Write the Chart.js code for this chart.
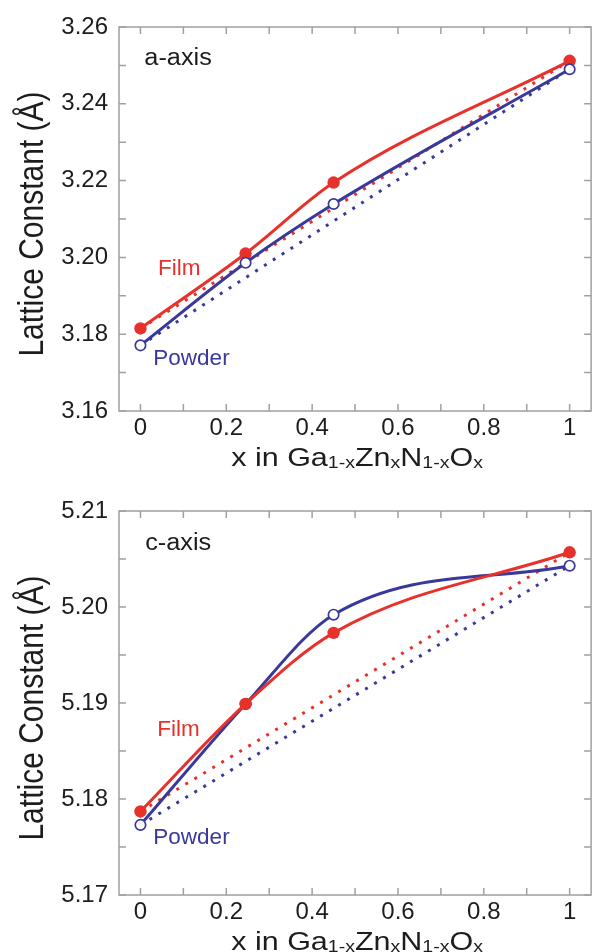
<!DOCTYPE html>
<html>
<head>
<meta charset="utf-8">
<script src="https://cdn.jsdelivr.net/npm/chart.js@4.4.1/dist/chart.umd.min.js"></script>
<style>
  html, body { margin: 0; padding: 0; background: #fff; }
  .panel { position: absolute; left: 0; width: 598px; height: 476px; }
</style>
</head>
<body>
<div class="panel" style="top:0"><canvas id="aAxis" width="598" height="476"></canvas></div>
<div class="panel" style="top:476px"><canvas id="cAxis" width="598" height="476"></canvas></div>
<script>
"use strict";

// composition x in Ga(1-x)Zn(x)N(1-x)O(x)
const xValues = [0, 0.245, 0.45, 1];

// a-axis lattice constant (Å)
const aFilm   = [3.1815, 3.2010, 3.2195, 3.2512];
const aPowder = [3.1771, 3.1986, 3.2139, 3.2490];

// c-axis lattice constant (Å)
const cFilm   = [5.1787, 5.1899, 5.1973, 5.2057];
const cPowder = [5.1773, 5.1899, 5.1992, 5.2043];

// ticks
const xMajor = [0, 0.2, 0.4, 0.6, 0.8, 1];
const xMinor = [0.1, 0.3, 0.5, 0.7, 0.9];
const aMajor = [3.16, 3.18, 3.20, 3.22, 3.24, 3.26];
const aMinor = [3.17, 3.19, 3.21, 3.23, 3.25];
const cMajor = [5.17, 5.18, 5.19, 5.20, 5.21];
const cMinor = [5.175, 5.185, 5.195, 5.205];

const RED = "#e6322b";
const BLUE = "#39399a";
const GRAY = "#a0a0a0";
const INK = "#1d1d1d";
const FONT = "'Liberation Sans', Arial, Helvetica, sans-serif";

Chart.defaults.font.family = FONT;
Chart.defaults.color = INK;

const panels = [
    {
        id: "aAxis", film: aFilm, powder: aPowder,
        yMin: 3.16, yMax: 3.26, major: aMajor, minor: aMinor,
        padTop: 27, xHeight: 65, filmOnTop: false,
        tag: "a-axis", tagAt: [0.009, 3.2501],
        filmAt: [0.041, 3.1954], powderAt: [0.03, 3.1720]
    },
    {
        id: "cAxis", film: cFilm, powder: cPowder,
        yMin: 5.17, yMax: 5.21, major: cMajor, minor: cMinor,
        padTop: 35, xHeight: 57, filmOnTop: true,
        tag: "c-axis", tagAt: [0.011, 5.2059],
        filmAt: [0.039, 5.1866], powderAt: [0.03, 5.1753]
    }
];

function points(ys) {
    return xValues.map(function (x, i) { return { x: x, y: ys[i] }; });
}

// straight line between the end members (x = 0 and x = 1)
function endLine(ys) {
    return [
        { x: xValues[0], y: ys[0] },
        { x: xValues[xValues.length - 1], y: ys[ys.length - 1] }
    ];
}

function framePlugin(p) {
    return {
        id: "frame",
        beforeDatasetsDraw: function (chart) {
            const ctx = chart.ctx, a = chart.chartArea;
            const xs = chart.scales.x, ys = chart.scales.y;
            const len = 7;
            ctx.save();
            ctx.strokeStyle = GRAY;
            ctx.lineWidth = 1.5;
            ctx.beginPath();
            xMajor.concat(xMinor).forEach(function (v) {
                const px = xs.getPixelForValue(v);
                ctx.moveTo(px, a.bottom); ctx.lineTo(px, a.bottom - len);
                ctx.moveTo(px, a.top); ctx.lineTo(px, a.top + len);
            });
            p.major.concat(p.minor).forEach(function (v) {
                const py = ys.getPixelForValue(v);
                ctx.moveTo(a.left, py); ctx.lineTo(a.left + len, py);
                ctx.moveTo(a.right, py); ctx.lineTo(a.right - len, py);
            });
            ctx.stroke();
            ctx.strokeRect(a.left, a.top, a.right - a.left, a.bottom - a.top);
            ctx.restore();
        }
    };
}

function textPlugin(p) {
    return {
        id: "texts",
        afterDraw: function (chart) {
            const ctx = chart.ctx, a = chart.chartArea;
            const xs = chart.scales.x, ys = chart.scales.y;

            function label(text, at, color, size, stretch) {
                ctx.save();
                ctx.translate(xs.getPixelForValue(at[0]), ys.getPixelForValue(at[1]));
                ctx.scale(stretch, 1);
                ctx.font = size + "px " + FONT;
                ctx.fillStyle = color;
                ctx.textAlign = "left";
                ctx.textBaseline = "alphabetic";
                ctx.fillText(text, 0, 0);
                ctx.restore();
            }

            label(p.tag, p.tagAt, INK, 23, 1.1);
            label("Film", p.filmAt, RED, 22.5, 1);
            label("Powder", p.powderAt, BLUE, 22.5, 1);

            // y title
            ctx.save();
            ctx.translate(42.5, (a.top + a.bottom) / 2 + 5);
            ctx.rotate(-Math.PI / 2);
            ctx.scale(1, 1.15);
            ctx.font = "30px " + FONT;
            ctx.fillStyle = INK;
            ctx.textAlign = "center";
            ctx.textBaseline = "alphabetic";
            ctx.fillText("Lattice Constant (\u00C5)", 0, 0);
            ctx.restore();

            // x title with subscripts
            const parts = [
                ["x in Ga", false], ["1-x", true], ["Zn", false], ["x", true],
                ["N", false], ["1-x", true], ["O", false], ["x", true]
            ];
            const mainFont = "25px " + FONT, subFont = "16px " + FONT;
            ctx.save();
            let total = 0;
            parts.forEach(function (pt) {
                ctx.font = pt[1] ? subFont : mainFont;
                total += ctx.measureText(pt[0]).width;
            });
            ctx.translate((a.left + a.right) / 2 + 2, a.bottom + 55);
            ctx.scale(1.22, 1);
            ctx.fillStyle = INK;
            ctx.textAlign = "left";
            ctx.textBaseline = "alphabetic";
            let cx = -total / 2;
            parts.forEach(function (pt) {
                ctx.font = pt[1] ? subFont : mainFont;
                ctx.fillText(pt[0], cx, pt[1] ? 1.5 : 0);
                cx += ctx.measureText(pt[0]).width;
            });
            ctx.restore();
        }
    };
}

panels.forEach(function (p) {
    const ctx = document.getElementById(p.id).getContext("2d");
    new Chart(ctx, {
        type: "line",
        data: {
            datasets: [
                {
                    label: "Film (end members)",
                    data: endLine(p.film),
                    borderColor: RED,
                    borderWidth: 3,
                    borderDash: [3, 7.5],
                    pointRadius: 0,
                    order: 4
                },
                {
                    label: "Powder (end members)",
                    data: endLine(p.powder),
                    borderColor: BLUE,
                    borderWidth: 3,
                    borderDash: [3, 7.5],
                    pointRadius: 0,
                    order: 3
                },
                {
                    label: "Film",
                    data: points(p.film),
                    borderColor: RED,
                    borderWidth: 3,
                    cubicInterpolationMode: "monotone",
                    pointRadius: 6.2,
                    pointBackgroundColor: RED,
                    pointBorderColor: RED,
                    pointBorderWidth: 0,
                    order: p.filmOnTop ? 1 : 2
                },
                {
                    label: "Powder",
                    data: points(p.powder),
                    borderColor: BLUE,
                    borderWidth: 3,
                    cubicInterpolationMode: "monotone",
                    pointRadius: 5.2,
                    pointBackgroundColor: "#ffffff",
                    pointBorderColor: BLUE,
                    pointBorderWidth: 1.7,
                    order: p.filmOnTop ? 2 : 1
                }
            ]
        },
        options: {
            responsive: false,
            animation: false,
            layout: { padding: { top: p.padTop, right: 2, left: 0, bottom: 0 } },
            plugins: {
                legend: { display: false },
                tooltip: { enabled: false }
            },
            scales: {
                x: {
                    type: "linear",
                    min: -0.05,
                    max: 1.05,
                    afterBuildTicks: function (s) {
                        s.ticks = xMajor.map(function (v) { return { value: v }; });
                    },
                    afterFit: function (s) { s.height = p.xHeight; },
                    grid: { display: false, drawTicks: false },
                    border: { display: false },
                    ticks: {
                        autoSkip: false,
                        maxRotation: 0,
                        padding: 3,
                        color: INK,
                        font: { size: 24 },
                        callback: function (v) { return String(v); }
                    }
                },
                y: {
                    type: "linear",
                    min: p.yMin,
                    max: p.yMax,
                    afterBuildTicks: function (s) {
                        s.ticks = p.major.map(function (v) { return { value: v }; });
                    },
                    afterFit: function (s) { s.width = 119; },
                    grid: { display: false, drawTicks: false },
                    border: { display: false },
                    ticks: {
                        padding: 11,
                        color: INK,
                        font: { size: 24 },
                        callback: function (v) { return v.toFixed(2); }
                    }
                }
            }
        },
        plugins: [framePlugin(p), textPlugin(p)]
    });
});
</script>
</body>
</html>
